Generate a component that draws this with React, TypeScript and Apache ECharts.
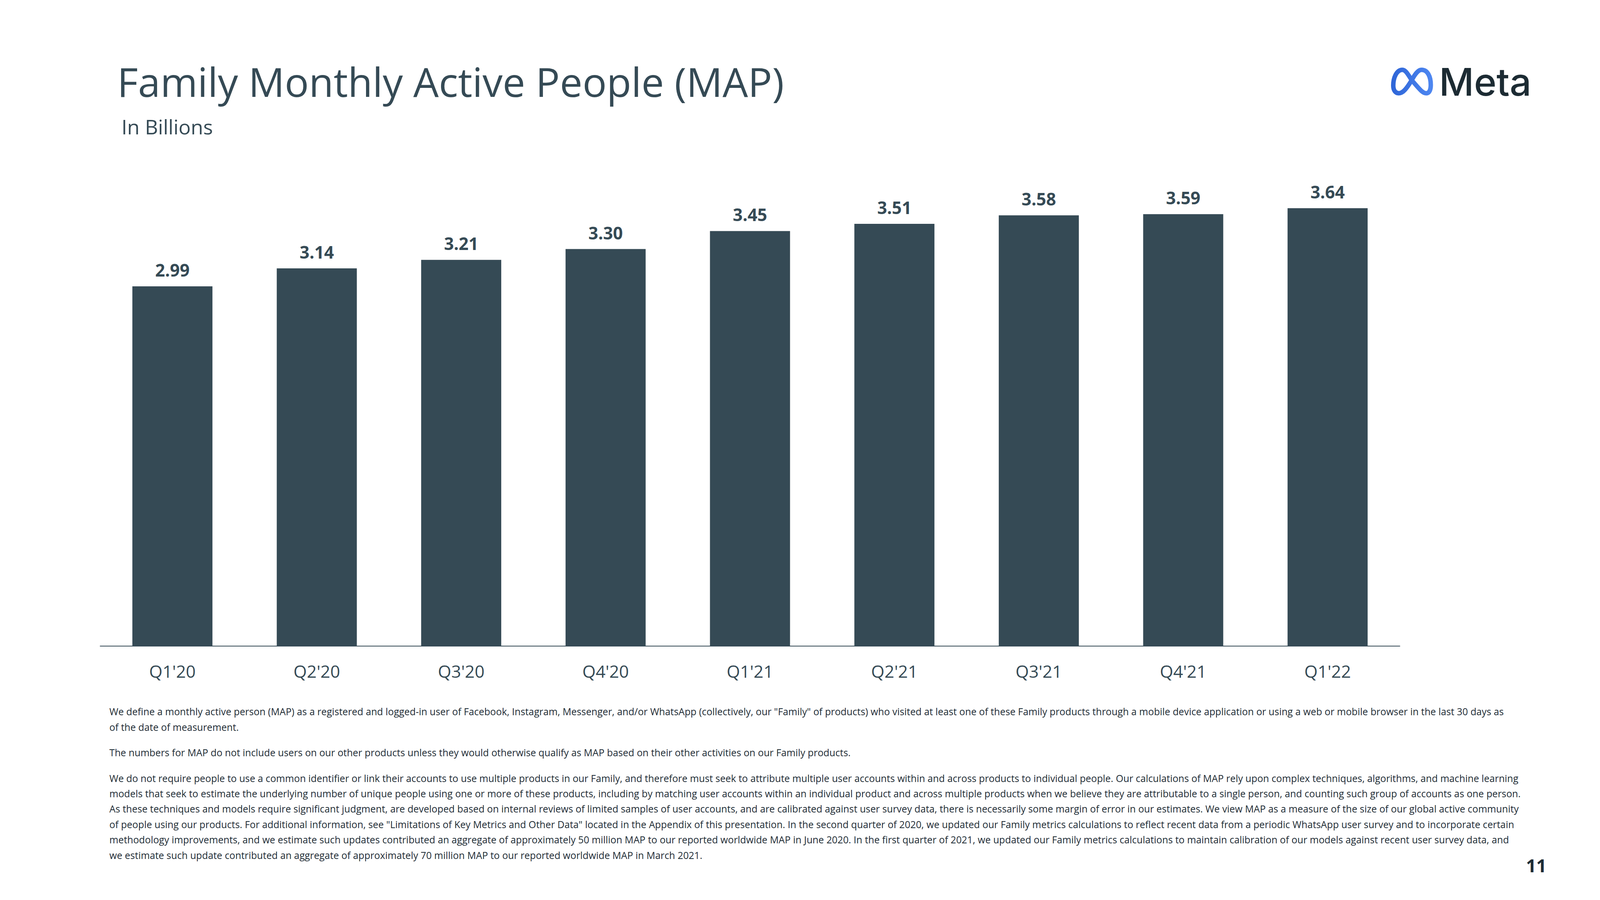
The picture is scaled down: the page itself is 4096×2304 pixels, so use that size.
import React, { useEffect, useRef } from "react";
import * as echarts from "echarts";

const categories = ["Q1'20", "Q2'20", "Q3'20", "Q4'20", "Q1'21", "Q2'21", "Q3'21", "Q4'21", "Q1'22"];
const mapValues = [2.99, 3.14, 3.21, 3.30, 3.45, 3.51, 3.58, 3.59, 3.64];

const titleText = "Family Monthly Active People (MAP)";
const subtitleText = "In Billions";
const pageNumber = "11";

const footnoteParagraphs: string[][] = [
  [
    "We define a monthly active person (MAP) as a registered and logged-in user of Facebook, Instagram, Messenger, and/or WhatsApp (collectively, our \"Family\" of products) who visited at least one of these Family products through a mobile device application or using a web or mobile browser in the last 30 days as",
    "of the date of measurement.",
  ],
  [
    "The numbers for MAP do not include users on our other products unless they would otherwise qualify as MAP based on their other activities on our Family products.",
  ],
  [
    "We do not require people to use a common identifier or link their accounts to use multiple products in our Family, and therefore must seek to attribute multiple user accounts within and across products to individual people. Our calculations of MAP rely upon complex techniques, algorithms, and machine learning",
    "models that seek to estimate the underlying number of unique people using one or more of these products, including by matching user accounts within an individual product and across multiple products when we believe they are attributable to a single person, and counting such group of accounts as one person.",
    "As these techniques and models require significant judgment, are developed based on internal reviews of limited samples of user accounts, and are calibrated against user survey data, there is necessarily some margin of error in our estimates. We view MAP as a measure of the size of our global active community",
    "of people using our products. For additional information, see \"Limitations of Key Metrics and Other Data\" located in the Appendix of this presentation. In the second quarter of 2020, we updated our Family metrics calculations to reflect recent data from a periodic WhatsApp user survey and to incorporate certain",
    "methodology improvements, and we estimate such updates contributed an aggregate of approximately 50 million MAP to our reported worldwide MAP in June 2020. In the first quarter of 2021, we updated our Family metrics calculations to maintain calibration of our models against recent user survey data, and",
    "we estimate such update contributed an aggregate of approximately 70 million MAP to our reported worldwide MAP in March 2021.",
  ],
];

const SLATE = "#354a55";
const DARK = "#1e2c35";

const LOGO_D =
  "M 69 42 C 80 22 90 7.5 102 7.5 C 122 7.5 132.5 30 132.5 58 C 132.5 75 127 85.5 118 85.5 C 104 85.5 94 70 69 42 C 55 20 48 7.5 38 7.5 C 18 7.5 7.5 35 7.5 60 C 7.5 76 15 85.5 26 85.5 C 40 85.5 52 70 69 42 Z";

let logoRegistered = false;

export default function App() {
  const ref = useRef<HTMLDivElement>(null);

  useEffect(() => {
    if (!ref.current) return;
    if (!logoRegistered) {
      echarts.graphic.registerShape("metaLogo", echarts.graphic.extendPath(LOGO_D, {}));
      logoRegistered = true;
    }
    const chart = echarts.init(ref.current, undefined, { renderer: "svg" });

    const fnFont = 24.8;
    const fnX = 280;
    const lineGap = 39.4;
    const paraGap = 65.4;
    const footnoteEls: any[] = [];
    let baseline = 1831;
    footnoteParagraphs.forEach((para, pi) => {
      if (pi > 0) baseline += paraGap - lineGap;
      para.forEach((line) => {
        footnoteEls.push({
          type: "text",
          x: fnX,
          y: baseline - 0.388 * fnFont,
          style: {
            text: line,
            fill: DARK,
            font: `400 ${fnFont}px "Open Sans"`,
            align: "left",
            verticalAlign: "middle",
          },
        });
        baseline += lineGap;
      });
    });

    const option: any = {
      animation: false,
      backgroundColor: "#ffffff",
      grid: { left: 256.5, right: 512.5, top: 422, bottom: 650, containLabel: false },
      xAxis: {
        type: "category",
        data: categories,
        axisLine: { show: true, lineStyle: { color: SLATE, width: 2 } },
        axisTick: { show: false },
        axisLabel: {
          color: SLATE,
          fontFamily: "Open Sans",
          fontSize: 44,
          margin: 42,
        },
      },
      yAxis: {
        type: "value",
        min: 0,
        max: 4,
        show: false,
        splitLine: { show: false },
      },
      series: [
        {
          type: "bar",
          data: mapValues,
          barWidth: 205,
          itemStyle: { color: SLATE },
          label: {
            show: true,
            position: "top",
            distance: 20,
            color: SLATE,
            fontFamily: "Open Sans",
            fontWeight: "bold",
            fontSize: 44,
            formatter: (p: any) => Number(p.value).toFixed(2),
          },
        },
      ],
      graphic: [
        {
          type: "text",
          x: 300,
          y: 208,
          style: {
            text: titleText,
            fill: SLATE,
            font: '400 103px "Open Sans"',
            align: "left",
            verticalAlign: "middle",
          },
        },
        {
          type: "text",
          x: 311,
          y: 323,
          style: {
            text: subtitleText,
            fill: SLATE,
            font: '400 52px "Open Sans"',
            align: "left",
            verticalAlign: "middle",
          },
        },
        {
          type: "metaLogo",
          x: 3561,
          y: 173,
          scaleX: 0.768,
          scaleY: 0.768,
          style: {
            fill: "none",
            stroke: new echarts.graphic.LinearGradient(0, 0, 1, 0, [
              { offset: 0, color: "#2f66d8" },
              { offset: 1, color: "#4d86f0" },
            ]),
            lineWidth: 15,
            lineCap: "round",
            lineJoin: "round",
          },
        },
        {
          type: "text",
          x: 3684,
          y: 209,
          style: {
            text: "Meta",
            fill: "#1c2b33",
            font: '500 98px Inter',
            align: "left",
            verticalAlign: "middle",
          },
        },
        {
          type: "text",
          x: 3959,
          y: 2215,
          style: {
            text: pageNumber,
            fill: DARK,
            font: '700 46px "Open Sans"',
            align: "right",
            verticalAlign: "middle",
          },
        },
        ...footnoteEls,
      ],
    };

    chart.setOption(option);
    return () => {
      chart.dispose();
    };
  }, []);

  return (
    <div
      ref={ref}
      style={{ position: "absolute", left: 0, top: 0, width: 4096, height: 2304, background: "#fff" }}
    />
  );
}
